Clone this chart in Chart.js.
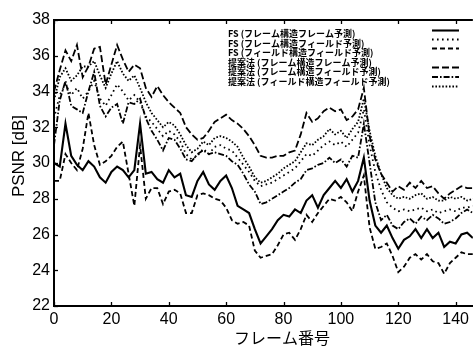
<!DOCTYPE html>
<html>
<head>
<meta charset="utf-8">
<script src="https://cdn.jsdelivr.net/npm/chart.js@4/dist/chart.umd.min.js"></script>
<style>
html,body{margin:0;padding:0;background:#fff;}
canvas{display:block;}
</style>
</head>
<body>
<canvas id="c" width="473" height="347"></canvas>
<script>
// Frame numbers (x categories)
const frames = [0,2,4,6,8,10,12,14,16,18,20,22,24,26,28,30,32,34,36,38,40,42,44,46,48,50,52,54,56,58,60,62,64,66,68,70,72,74,76,78,80,82,84,86,88,90,92,94,96,98,100,102,104,106,108,110,112,114,116,118,120,122,124,126,128,130,132,134,136,138,140,142,144,146];

// Tick labels
const yTicks = [22,24,26,28,30,32,34,36,38];
const xTicks = [0,20,40,60,80,100,120,140];

// Axis titles
const xTitle = 'フレーム番号';
const yTitle = 'PSNR [dB]';

// Legend labels
const legendLabels = [
  'FS (フレーム構造フレーム予測)',
  'FS (フレーム構造フィールド予測)',
  'FS (フィールド構造フィールド予測)',
  '提案法 (フレーム構造フレーム予測)',
  '提案法 (フレーム構造フィールド予測)',
  '提案法 (フィールド構造フィールド予測)'
];

// Series values (PSNR dB)
const fsFrameFrame = [30.0,29.8,32.2,30.4,29.9,29.6,30.1,29.8,29.2,28.9,29.5,29.8,29.6,29.2,29.6,32.2,29.4,29.5,29.1,28.9,29.6,29.2,29.4,28.2,28.1,29.0,29.5,28.8,28.5,29.0,29.3,28.6,27.6,27.4,27.2,26.3,25.5,25.9,26.3,26.8,27.1,27.0,27.4,27.2,27.9,28.2,27.5,28.2,28.6,29.0,28.6,29.1,28.4,29.0,30.3,27.9,26.5,26.1,26.5,25.8,25.2,25.7,25.9,26.3,25.8,26.3,25.8,26.1,25.3,25.6,25.5,26.0,26.1,25.8];
const fsFrameField = [32.5,33.8,34.4,33.8,34.2,33.6,34.0,34.6,33.6,33.2,33.8,34.4,34.0,33.5,33.8,33.4,32.6,32.3,31.9,31.5,31.8,31.6,31.2,30.5,30.2,30.4,30.8,30.5,30.9,31.0,30.8,30.7,30.3,29.9,29.5,29.0,28.7,28.8,28.9,29.1,29.3,29.5,29.7,30.1,30.5,30.4,30.7,31.0,31.2,31.0,31.2,30.9,31.3,31.7,33.0,31.0,29.5,28.5,27.8,27.5,27.3,27.4,27.3,27.4,27.5,27.3,27.4,27.2,27.3,27.4,27.3,27.5,27.5,27.6];
const fsFieldField = [29.0,29.0,30.5,30.0,29.6,30.8,32.8,31.0,29.9,30.1,30.4,30.9,31.2,29.4,27.6,31.0,28.0,28.6,28.6,27.7,28.4,28.5,28.3,27.2,27.2,28.2,28.3,28.2,28.0,27.9,27.5,26.8,26.6,26.7,26.5,25.1,24.7,24.8,24.9,25.4,26.0,26.1,25.7,26.3,27.1,26.7,27.2,27.6,28.0,27.9,28.1,27.8,27.3,28.4,29.3,26.4,25.2,25.3,25.5,24.8,23.9,24.2,24.7,24.9,24.6,24.9,24.5,24.4,23.8,24.4,24.7,25.0,24.9,24.9];
const propFrameFrame = [34.0,35.2,36.3,35.7,36.6,34.8,35.4,36.4,36.5,34.4,35.5,36.6,35.8,35.1,35.5,35.3,34.2,33.7,34.3,33.8,33.4,33.1,32.8,32.0,31.6,31.3,31.4,31.8,32.3,32.5,32.7,32.4,32.2,31.9,31.5,31.0,30.4,30.3,30.3,30.4,30.4,30.6,30.7,31.6,32.8,32.3,32.5,32.9,33.1,32.9,33.0,32.4,32.6,33.0,34.2,31.5,30.2,29.4,28.9,28.4,28.7,28.5,28.9,28.6,29.0,28.6,28.7,28.3,28.0,28.3,28.5,28.7,28.6,28.6];
const propFrameField = [31.0,33.5,34.6,33.2,33.0,32.8,34.0,35.1,33.2,32.6,33.1,33.3,32.2,33.4,33.3,33.6,32.5,31.8,31.3,30.7,31.4,31.3,30.8,30.2,30.1,30.5,30.7,30.5,30.6,30.5,30.4,30.1,29.9,29.4,28.8,28.4,27.7,27.8,28.0,28.2,28.4,28.6,28.9,29.1,29.6,29.7,29.9,30.0,30.3,30.0,30.2,29.8,30.4,30.3,32.2,30.0,27.8,26.8,27.1,26.5,26.3,26.7,26.9,26.6,27.0,26.8,27.1,26.9,26.6,26.7,26.9,27.2,27.4,27.2];
const propFieldField = [33.5,34.8,35.3,34.6,34.9,35.4,35.4,35.7,34.9,34.2,35.0,35.7,35.0,34.6,34.9,34.2,33.4,32.8,32.4,32.0,32.3,32.1,31.6,31.0,30.6,30.8,31.2,31.0,31.4,31.5,31.4,31.2,30.9,30.3,29.8,29.2,28.9,29.0,29.2,29.4,29.7,29.9,30.1,30.6,31.1,31.0,31.3,31.5,31.9,31.6,31.8,31.4,31.9,32.3,33.6,31.8,30.4,29.4,28.6,28.2,28.0,28.1,28.0,28.2,28.3,28.0,28.1,27.9,27.9,28.1,28.0,28.1,27.9,28.0];

const seriesList = [fsFrameFrame, fsFrameField, fsFieldField, propFrameFrame, propFrameField, propFieldField];
const dashes = [[], [1.6,3.4], [5,3], [7,3], [6,2,1.6,2], [1.6,1.8]];
const widths = [2.1, 1.8, 1.8, 1.8, 1.8, 1.8];

const datasets = seriesList.map((vals, i) => ({
  label: legendLabels[i],
  data: frames.map((f, j) => ({x: f, y: vals[j]})),
  borderColor: '#000',
  backgroundColor: '#000',
  borderWidth: widths[i],
  borderDash: dashes[i],
  pointRadius: 0,
  tension: 0,
  fill: false
}));

const framePlugin = {
  id: 'framePlugin',
  afterDraw(chart) {
    const ctx = chart.ctx;
    const a = chart.chartArea;
    const xs = chart.scales.x, ys = chart.scales.y;
    ctx.save();
    ctx.strokeStyle = '#000';
    ctx.setLineDash([]);
    // top border
    ctx.lineWidth = 2;
    ctx.beginPath();
    ctx.moveTo(a.left, a.top);
    ctx.lineTo(a.right, a.top);
    ctx.stroke();
    // inward ticks
    ctx.lineWidth = 1.3;
    xTicks.forEach(v => {
      const px = Math.round(xs.getPixelForValue(v)) + 0.5;
      ctx.beginPath();
      ctx.moveTo(px, a.bottom); ctx.lineTo(px, a.bottom - 4);
      ctx.moveTo(px, a.top); ctx.lineTo(px, a.top + 4);
      ctx.stroke();
    });
    yTicks.forEach(v => {
      const py = Math.round(ys.getPixelForValue(v)) + 0.5;
      ctx.beginPath();
      ctx.moveTo(a.left, py); ctx.lineTo(a.left + 4, py);
      ctx.stroke();
    });
    // axis titles
    ctx.fillStyle = '#000';
    ctx.textAlign = 'center';
    ctx.textBaseline = 'middle';
    ctx.font = '16px "Noto Sans CJK JP"';
    ctx.fillText(xTitle, 282, 338);
    ctx.save();
    ctx.translate(19, 156);
    ctx.rotate(-Math.PI / 2);
    ctx.font = '17px "Liberation Sans"';
    ctx.fillText(yTitle, 0, 0);
    ctx.restore();
    // legend
    const rowY = [34, 43.5, 53, 62.5, 72, 81.5];
    const sampleY = [30.5, 39.5, 48.5, 67.5, 77, 86.5];
    ctx.font = 'bold 9px "Noto Sans CJK JP"';
    ctx.textBaseline = 'middle';
    ctx.textAlign = 'left';
    legendLabels.forEach((t, i) => {
      ctx.fillText(t, 228, rowY[i]);
      ctx.lineWidth = widths[i];
      ctx.setLineDash(dashes[i]);
      ctx.beginPath();
      ctx.moveTo(432, sampleY[i]);
      ctx.lineTo(459, sampleY[i]);
      ctx.stroke();
    });
    ctx.restore();
  }
};

new Chart(document.getElementById('c'), {
  type: 'line',
  data: { datasets },
  options: {
    responsive: false,
    animation: false,
    devicePixelRatio: 1,
    layout: { padding: { top: 20, right: 0, left: 0, bottom: 0 }, autoPadding: false },
    plugins: { legend: { display: false }, tooltip: { enabled: false } },
    scales: {
      x: {
        type: 'linear', min: 0, max: 146, position: 'bottom',
        ticks: { stepSize: 20, includeBounds: false, autoSkip: false, maxRotation: 0,
                 font: { family: 'Liberation Sans', size: 16 }, color: '#000', padding: 4 },
        grid: { display: false, drawTicks: false },
        border: { display: true, color: '#000', width: 2 },
        title: { display: false },
        afterFit: s => { s.height = 41; }
      },
      y: {
        type: 'linear', min: 22, max: 38, position: 'left',
        ticks: { stepSize: 2, font: { family: 'Liberation Sans', size: 16 }, color: '#000', padding: 4 },
        grid: { display: false, drawTicks: false },
        border: { display: true, color: '#000', width: 2 },
        title: { display: false },
        afterFit: s => { s.width = 54; }
      }
    }
  },
  plugins: [framePlugin]
});
</script>
</body>
</html>
